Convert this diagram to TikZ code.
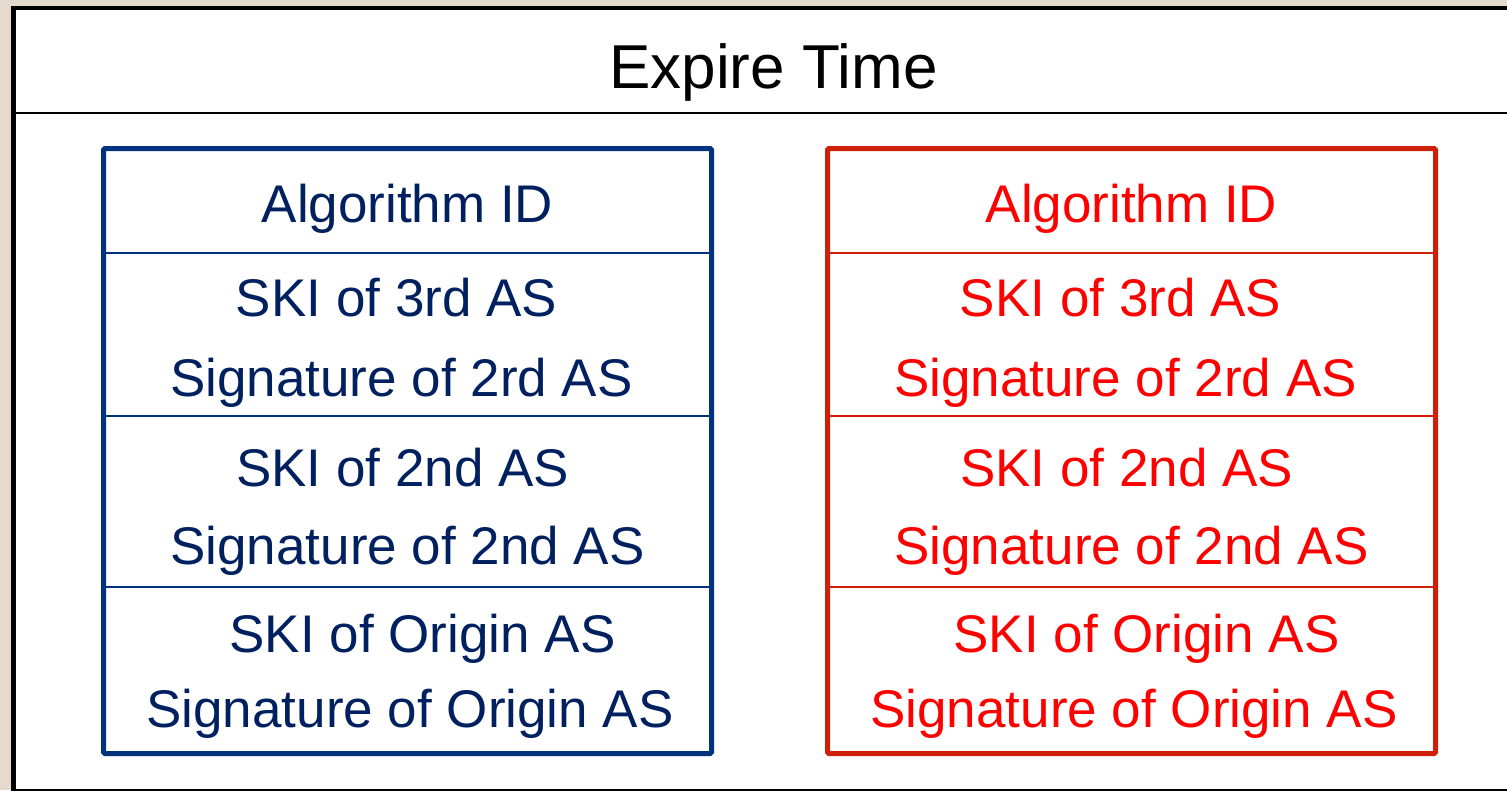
\documentclass[tikz,border=0pt]{standalone}
\usepackage{fontspec}
\setmainfont{Liberation Sans}
\definecolor{paper}{HTML}{E4DBCC}
\definecolor{navyline}{HTML}{00327E}
\definecolor{navytext}{HTML}{002060}
\definecolor{redline}{HTML}{CE2008}
\definecolor{redtext}{HTML}{FF0000}

% One signature record: #1 name prefix, #2 horizontal offset,
% #3 frame colour, #4 text colour
\newcommand{\recordpanel}[4]{%
  \begin{scope}[shift={(#2,0)}]
    \draw[#3, frame] (103.5,148.5) rectangle (711.5,753.5);
    \draw[#3, rule] (106,252.5) -- (709,252.5);
    \draw[#3, rule] (106,415.5) -- (709,415.5);
    \draw[#3, rule] (106,586.5) -- (709,586.5);
    \node[field, text=#4] (#1-alg)    at (407.5,222) {Algorithm ID};
    \node[field, text=#4] (#1-ski3)   at (396.5,316) {SKI of 3rd AS};
    \node[field, text=#4] (#1-sig3)   at (401.5,396) {Signature of 2rd AS};
    \node[field, text=#4] (#1-ski2)   at (402.5,486) {SKI of 2nd AS};
    \node[field, text=#4] (#1-sig2)   at (407.5,564) {Signature of 2nd AS};
    \node[field, text=#4] (#1-skio)   at (422.5,652) {SKI of Origin AS};
    \node[field, text=#4] (#1-sigo)   at (410,727)   {Signature of Origin AS};
  \end{scope}}

\begin{document}
\begin{tikzpicture}[x=1pt,y=-1pt,
  field/.style={anchor=base, inner sep=0pt, font=\fontsize{53}{60}\selectfont},
  heading/.style={anchor=base, inner sep=0pt, font=\fontsize{62}{70}\selectfont},
  frame/.style={line width=5, rounded corners=1.5},
  rule/.style={line width=2},
]
\useasboundingbox (0,0) rectangle (1507,790);
\fill[paper] (0,0) rectangle (1507,790);

% outer message box with its header row
\begin{scope}
  \clip (0,0) rectangle (1507,790);
  \draw[line width=4.5, fill=white] (13.5,8) rectangle (1520,791);
  \draw[line width=2] (13.5,112.5) -- (1520,112.5);
\end{scope}
\node[heading] (expire) at (773.5,88) {Expire Time};

% the two signature blocks
\recordpanel{blk1}{0}{navyline}{navytext}
\recordpanel{blk2}{724}{redline}{redtext}
\end{tikzpicture}
\end{document}
